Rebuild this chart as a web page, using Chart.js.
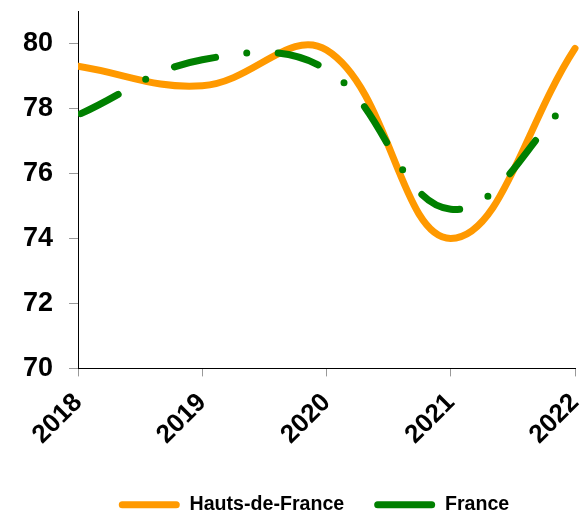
<!DOCTYPE html>
<html>
<head>
<meta charset="utf-8">
<script src="https://cdn.jsdelivr.net/npm/chart.js@4/dist/chart.umd.min.js"></script>
<style>
  body { margin: 0; background: #fff; }
  #wrap { width: 581px; height: 513px; }
</style>
</head>
<body>
<div id="wrap"><canvas id="myChart"></canvas></div>
<script>
const years = ["2018", "2019", "2020", "2021", "2022"];
const hautsDeFrance = [79.3, 78.7, 79.8, 74.0, 79.85];
const france = [77.8, 79.5, 79.2, 74.9, 78.4];
const yTickValues = [70, 72, 74, 76, 78, 80];

const ctx = document.getElementById("myChart");

const baseLabels = Chart.defaults.plugins.legend.labels.generateLabels;

// nudge the legend a bit to the right, as in the original
const legendShift = {
  id: "legendShift",
  afterLayout(chart) {
    chart.legend.left += 23;
    chart.legend.right += 23;
  },
};

let chart = new Chart(ctx, {
  type: "line",
  data: {
    labels: years,
    datasets: [
      {
        label: "Hauts-de-France",
        data: hautsDeFrance,
        borderColor: "rgb(255, 153, 0)",
        backgroundColor: "rgb(255, 153, 0)",
        borderWidth: 7,
        borderCapStyle: "round",
        pointRadius: 0,
        tension: 0.4,
        order: 2,
        clip: { left: 0, top: false, right: false, bottom: false },
      },
      {
        label: "France",
        data: france,
        borderColor: "rgb(0, 128, 0)",
        backgroundColor: "rgb(0, 128, 0)",
        borderWidth: 7,
        borderCapStyle: "round",
        borderDash: [42, 31.5, 0, 31.5],
        borderDashOffset: -3,
        pointRadius: 0,
        tension: 0.4,
        order: 1,
        clip: { left: 0, top: false, right: false, bottom: false },
      },
    ],
  },
  options: {
    responsive: true,
    maintainAspectRatio: false,
    animation: false,
    layout: { padding: { left: 7, right: 6, top: 11, bottom: -11.5 } },
    scales: {
      x: {
        afterFit: (scale) => {
          scale.height = 96.5;
          scale.paddingLeft = 0;
          scale.paddingRight = 0;
        },
        grid: { drawOnChartArea: false, drawTicks: true, tickLength: 8, color: "#999" },
        border: { color: "#000", width: 1 },
        ticks: {
          minRotation: 45,
          maxRotation: 45,
          padding: 11,
          color: "#000",
          font: { family: "Liberation Sans", weight: "bold", size: 26 },
        },
      },
      y: {
        min: 70,
        max: 81,
        afterFit: (scale) => {
          scale.paddingTop = 0;
          scale.paddingBottom = 0;
        },
        afterBuildTicks: (scale) => {
          scale.ticks = yTickValues.map((v) => ({ value: v }));
        },
        grid: { drawOnChartArea: false, drawTicks: true, tickLength: 9, color: "#999" },
        border: { color: "#000", width: 1 },
        ticks: {
          padding: 16,
          color: "#000",
          font: { family: "Liberation Sans", weight: "bold", size: 27 },
        },
      },
    },
    plugins: {
      tooltip: { enabled: false },
      legend: {
        position: "bottom",
        labels: {
          boxWidth: 61,
          boxHeight: 7,
          useBorderRadius: true,
          borderRadius: 3.5,
          padding: 30,
          color: "#000",
          font: { family: "Liberation Sans", weight: "bold", size: 19.6 },
          sort: (a, b) => a.datasetIndex - b.datasetIndex,
          generateLabels: (c) =>
            baseLabels(c).map((item) => ({
              ...item,
              fillStyle: item.strokeStyle,
              lineWidth: 0,
              lineDash: [],
            })),
        },
      },
    },
  },
  plugins: [legendShift],
});
</script>
</body>
</html>
